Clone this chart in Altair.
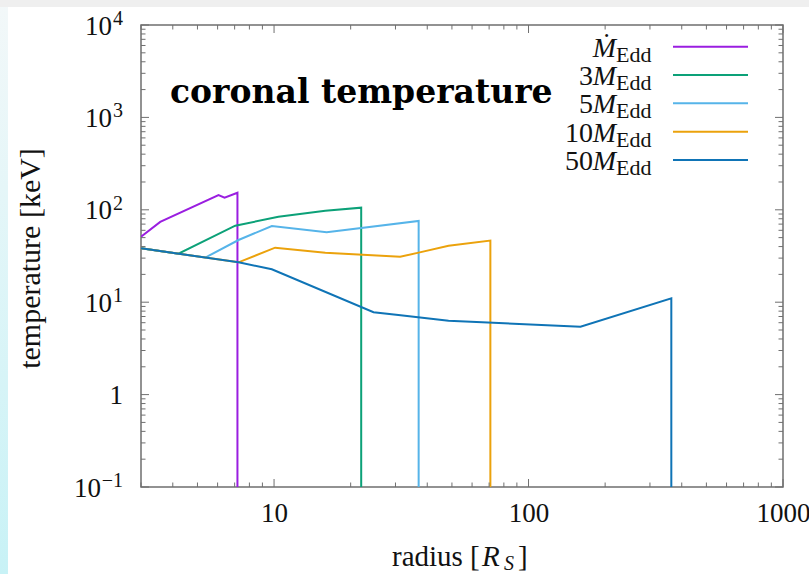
import altair as alt
import pandas as pd

# ---------------- data ----------------
series_names = ["1", "3", "5", "10", "50"]
series_colors = ["#9a1ee0", "#0ca178", "#56b4e9", "#eba20c", "#0f74b6"]

r_1 = [3.0, 3.57, 6.05, 6.39, 7.18, 7.18]
T_1 = [51, 74, 144, 135, 153, 0.1]
r_3 = [3.0, 4.21, 7.04, 10.4, 15.9, 22.0, 22.0]
T_3 = [38.3, 33.5, 67.3, 84, 97.7, 105.5, 0.1]
r_5 = [3.0, 5.37, 7.25, 9.8, 16.1, 37.0, 37.0]
T_5 = [38.3, 30.4, 47.1, 66.8, 57, 75.7, 0.1]
r_10 = [3.0, 7.25, 10.1, 15.9, 31.3, 37.0, 48.5, 70.8, 70.8]
T_10 = [38.3, 27, 38.9, 34.3, 31, 34.4, 40.8, 46.4, 0.1]
r_50 = [3.0, 7.25, 9.8, 24.6, 30.8, 48.5, 160, 364, 364]
T_50 = [38.3, 27, 22.7, 7.8, 7.26, 6.3, 5.43, 11.0, 0.1]

x_major = [10, 100, 1000]
x_minor = [3, 4, 5, 6, 7, 8, 9, 20, 30, 40, 50, 60, 70, 80, 90,
           200, 300, 400, 500, 600, 700, 800, 900]
y_major = [0.1, 1, 10, 100, 1000, 10000]
y_label_base = ["10", "1", "10", "10", "10", "10"]
y_label_exp = ["−1", "", "1", "2", "3", "4"]
y_minor = [m * d for d in [0.1, 1, 10, 100, 1000] for m in range(2, 10)]

legend_num = ["", "3", "5", "10", "50"]
legend_M = ["Ṁ", "M", "M", "M", "M"]
legend_sub = "Edd"

# ---------------- layout ----------------
W, H = 642, 462
FONT = "Liberation Serif"
BOX = "#6f6f6f"
INK = "#111"

xs = alt.Scale(type="log", domain=[3, 1000], nice=False)
ys = alt.Scale(type="log", domain=[0.1, 10000], nice=False)
cs = alt.Scale(domain=series_names, range=series_colors)

x_axis = alt.Axis(values=x_major, labelExpr="format(datum.value, 'd')", ticks=False,
                  domain=False, grid=False, labelFont=FONT, labelFontSize=27,
                  labelColor=INK, labelPadding=13, labelBaseline="top",
                  labelFlush=False, labelOverlap=False, title=None)
y_axis = alt.Axis(values=y_major, labels=False, ticks=False, domain=False, grid=False,
                  title="temperature [keV]", titleFont=FONT, titleFontSize=30,
                  titleFontWeight="normal", titleColor=INK, titleX=-102,
                  titleY=233, titleAngle=-90, titleBaseline="alphabetic")

one = pd.DataFrame({"d": [0]})

# ---------------- background strips of the slide ----------------
left_strip = alt.Chart(one).mark_rect(
    color=alt.LinearGradient(gradient="linear",
                             stops=[alt.GradientStop(color="#f3f8f9", offset=0),
                                    alt.GradientStop(color="#c8f2f6", offset=1)],
                             x1=0, x2=0, y1=0, y2=1)
).encode(x=alt.value(-141), x2=alt.value(-133), y=alt.value(-25), y2=alt.value(549))
top_strip = alt.Chart(one).mark_rect(color="#efefef").encode(
    x=alt.value(-141), x2=alt.value(668), y=alt.value(-25), y2=alt.value(-18))

# ---------------- curves (each layer carries the same axes) ----------------
line_layers = []
all_r = [r_1, r_3, r_5, r_10, r_50]
all_T = [T_1, T_3, T_5, T_10, T_50]
for name, rr, TT in zip(series_names, all_r, all_T):
    d = pd.DataFrame({"r": rr, "T": TT, "i": list(range(len(rr))), "series": name})
    line_layers.append(
        alt.Chart(d).mark_line(strokeWidth=2, clip=True).encode(
            x=alt.X("r:Q", scale=xs, axis=x_axis),
            y=alt.Y("T:Q", scale=ys, axis=y_axis),
            color=alt.Color("series:N", scale=cs, legend=None),
            order=alt.Order("i:Q"),
        )
    )

# ---------------- tick marks (inside, mirrored) ----------------
def xticks(vals, ln):
    d = pd.DataFrame({"v": vals})
    b = alt.Chart(d).mark_rule(color=BOX, strokeWidth=1)
    return [b.encode(x=alt.X("v:Q", scale=xs, axis=x_axis), y=alt.value(H), y2=alt.value(H - ln)),
            b.encode(x=alt.X("v:Q", scale=xs, axis=x_axis), y=alt.value(0), y2=alt.value(ln))]

def yticks(vals, ln):
    d = pd.DataFrame({"v": vals})
    b = alt.Chart(d).mark_rule(color=BOX, strokeWidth=1)
    return [b.encode(y=alt.Y("v:Q", scale=ys, axis=y_axis), x=alt.value(0), x2=alt.value(ln)),
            b.encode(y=alt.Y("v:Q", scale=ys, axis=y_axis), x=alt.value(W), x2=alt.value(W - ln))]

tick_layers = xticks(x_major, 8) + xticks(x_minor, 4.5) + yticks(y_major, 8) + yticks(y_minor, 4.5)

# ---------------- y tick labels: base + raised exponent ----------------
ylab_layers = []
for v, base, ex in zip(y_major, y_label_base, y_label_exp):
    d = pd.DataFrame({"v": [v], "base": [base], "ex": [ex]})
    exp_w = 0 if ex == "" else (22 if len(ex) > 1 else 11)
    ylab_layers.append(
        alt.Chart(d).mark_text(font=FONT, fontSize=27, align="right", baseline="alphabetic",
                               dy=9.5, color=INK).encode(
            x=alt.value(-18 - exp_w), y=alt.Y("v:Q", scale=ys, axis=y_axis), text="base:N"))
    if ex:
        ylab_layers.append(
            alt.Chart(d).mark_text(font=FONT, fontSize=20, align="right", baseline="alphabetic",
                                   dy=0, color=INK).encode(
                x=alt.value(-18), y=alt.Y("v:Q", scale=ys, axis=y_axis), text="ex:N"))

# ---------------- texts ----------------
title = alt.Chart(one).mark_text(text="coronal temperature", font="DejaVu Serif",
                                 fontWeight="bold", fontSize=33, align="left",
                                 baseline="alphabetic", color="#000").encode(
    x=alt.value(29), y=alt.value(77.7))

def txt(s, x, y, size=29, style="normal"):
    return alt.Chart(one).mark_text(text=s, font=FONT, fontSize=size, fontStyle=style,
                                    align="left", baseline="alphabetic",
                                    color=INK).encode(x=alt.value(x), y=alt.value(y))

xtitle = [txt("radius [", 251, 540.5), txt("R", 341, 540.5, 29, "italic"),
          txt("S", 363, 544.5, 20, "italic"), txt("]", 377, 540.5)]

main = alt.layer(*line_layers, left_strip, top_strip, *tick_layers, *ylab_layers,
                 title, *xtitle)

# ---------------- legend (gnuplot style: text left, sample right) ----------------
leg = pd.DataFrame({"series": series_names, "num": legend_num, "M": legend_M,
                    "sub": [legend_sub] * 5, "row": list(range(5))})
ly = alt.Y("row:Q", scale=alt.Scale(domain=[0, 4], range=[21.7, 135]), axis=None)
lc = alt.Color("series:N", scale=cs, legend=None)
leg_rule = alt.Chart(leg).mark_rule(strokeWidth=2).encode(
    x=alt.value(532), x2=alt.value(607), y=ly, color=lc)
leg_num = alt.Chart(leg).mark_text(font=FONT, fontSize=28, align="right",
                                   baseline="alphabetic", dy=10, color=INK).encode(
    x=alt.value(452), y=ly, text="num:N")
leg_M = alt.Chart(leg).mark_text(font=FONT, fontSize=28, fontStyle="italic", align="right",
                                 baseline="alphabetic", dy=10, color=INK).encode(
    x=alt.value(475), y=ly, text="M:N")
leg_sub = alt.Chart(leg).mark_text(font=FONT, fontSize=22, align="left",
                                   baseline="alphabetic", dy=15, color=INK).encode(
    x=alt.value(475), y=ly, text="sub:N")
legend = alt.layer(leg_rule, leg_num, leg_M, leg_sub)

chart = alt.layer(main, legend).resolve_scale(y="independent").properties(
    width=W, height=H,
    autosize=alt.AutoSizeParams(type="none"),
    padding={"left": 141, "top": 25, "right": 26, "bottom": 87},
    background="white",
).configure_view(stroke=BOX, strokeWidth=1.5)

chart.save("out.html", embed_options={"renderer": "svg", "actions": False})
